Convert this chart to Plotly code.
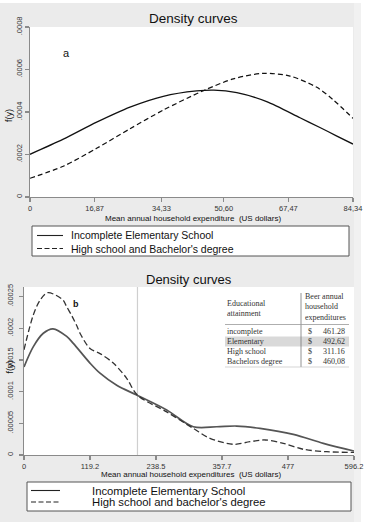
import plotly.graph_objects as go

W, H = 367, 522

# ---------------- data: panel a ----------------
a_inc_x = [0, 8.7, 17.4, 26.1, 34.8, 43.5, 48.0, 54.0, 61.8, 70.5, 75.7, 80.0, 84.34]
a_inc_y = [0.000201, 0.000272, 0.000352, 0.000423, 0.000474, 0.000499, 0.000503,
           0.000491, 0.000449, 0.000373, 0.000327, 0.000288, 0.000249]
a_hs_x = [0, 8.7, 17.4, 26.1, 34.8, 43.5, 46.1, 53.1, 60.9, 67.9, 74.9, 79.2, 84.34]
a_hs_y = [0.000088, 0.000145, 0.000229, 0.000321, 0.000409, 0.000486, 0.000507,
          0.000556, 0.000582, 0.000569, 0.000516, 0.000457, 0.000370]
a_xticks = [0, 16.87, 34.33, 50.60, 67.47, 84.34]
a_xticktext = ["0", "16,87", "34,33", "50,60", "67,47", "84,34"]
a_yticks = [0, 0.0002, 0.0004, 0.0006, 0.0008]
a_yticktext = ["0", ".0002", ".0004", ".0006", ".0008"]

# ---------------- data: panel b ----------------
b_inc_x = [0, 16.9, 34.9, 52.4, 77.1, 89.1, 119.2, 137.3, 167.5, 203.6, 257.8,
           305.9, 348.2, 384.3, 426.4, 486.6, 540.8, 596.2]
b_inc_y = [0.000139, 0.000171, 0.000192, 0.000199, 0.000187, 0.000176, 0.000145,
           0.000129, 0.000110, 0.0000946, 0.000071, 0.0000446, 0.0000446,
           0.0000457, 0.000042, 0.0000326, 0.0000184, 0.0000063]
b_hs_x = [0, 16.9, 28.9, 42.1, 57.8, 71.0, 75.9, 86.7, 95.8, 101.2, 119.2, 137.3,
          161.3, 185.5, 204.7, 257.8, 305.9, 336.0, 378.2, 408.3, 435.4, 468.5,
          504.6, 546.9, 596.2]
b_hs_y = [0.000166, 0.000221, 0.000244, 0.000256, 0.000252, 0.000244, 0.000236,
          0.000219, 0.000203, 0.000192, 0.000168, 0.000160, 0.000145, 0.000121,
          0.0000946, 0.000068, 0.000042, 0.0000263, 0.0000169, 0.000021,
          0.0000237, 0.0000184, 0.000009, 0.0000052, 0.000004]
b_xticks = [0, 119.2, 238.5, 357.7, 477, 596.2]
b_xticktext = ["0", "119.2", "238.5", "357.7", "477", "596.2"]
b_yticks = [0, 0.00005, 0.0001, 0.00015, 0.0002, 0.00025]
b_yticktext = ["0", ".00005", ".0001", ".00015", ".0002", ".00025"]
b_ref_line = 205

legend_a = ["Incomplete Elementary School", "High school and Bachelor's degree"]
legend_b = ["Incomplete Elementary School", "High school and bachelor's degree"]

table_header = ["Educational<br>attainment", "Beer annual<br>household<br>expenditures"]
table_groups = ["incomplete", "Elementary", "High school", "Bachelors degree"]
table_values = ["461.28", "492,62", "311.16", "460,08"]


def fx(p):
    return p / W


def fy(p):
    return 1 - p / H


GRAY_BG = "#ebebeb"
AX = "#8a8a8a"
FONT = "Liberation Sans, Arial, sans-serif"
SERIF = "Liberation Serif, Times New Roman, serif"

fig = go.Figure()

fig.add_trace(go.Scatter(x=a_inc_x, y=a_inc_y, mode="lines", line=dict(color="#111", width=1.3, shape="spline", smoothing=0.8),
                         xaxis="x", yaxis="y", showlegend=False, hoverinfo="skip"))
fig.add_trace(go.Scatter(x=a_hs_x, y=a_hs_y, mode="lines", line=dict(color="#111", width=1.2, dash="5px,3px", shape="spline", smoothing=0.8),
                         xaxis="x", yaxis="y", showlegend=False, hoverinfo="skip"))
fig.add_trace(go.Scatter(x=b_inc_x, y=b_inc_y, mode="lines", line=dict(color="#555", width=1.7, shape="spline", smoothing=0.9),
                         xaxis="x2", yaxis="y2", showlegend=False, hoverinfo="skip"))
fig.add_trace(go.Scatter(x=b_hs_x, y=b_hs_y, mode="lines", line=dict(color="#333", width=1.3, dash="6px,3px", shape="spline", smoothing=0.9),
                         xaxis="x2", yaxis="y2", showlegend=False, hoverinfo="skip"))

axis_common = dict(showline=True, linecolor=AX, linewidth=1.3, ticks="outside", ticklen=4,
                   tickcolor=AX, tickwidth=1.2, showgrid=False, zeroline=False, automargin=False,
                   tickfont=dict(size=7.5, color="#333", family=FONT), fixedrange=True)

fig.update_layout(
    width=W, height=H, autosize=False,
    margin=dict(l=0, r=0, t=0, b=0, pad=0, autoexpand=False),
    paper_bgcolor=GRAY_BG, plot_bgcolor="white",
    font=dict(family=FONT, color="#222"),
    xaxis=dict(domain=[fx(30), fx(353)], range=[0, 84.34], anchor="y",
               tickmode="array", tickvals=a_xticks, ticktext=a_xticktext, **axis_common),
    yaxis=dict(domain=[fy(197), fy(27)], range=[0, 0.0008], anchor="x",
               tickmode="array", tickvals=a_yticks, ticktext=a_yticktext, tickangle=-90,
               **axis_common),
    xaxis2=dict(domain=[fx(24), fx(354)], range=[0, 596.2], anchor="y2",
                tickmode="array", tickvals=b_xticks, ticktext=b_xticktext, **axis_common),
    yaxis2=dict(domain=[fy(455), fy(287)], range=[0, 0.000265], anchor="x2",
                tickmode="array", tickvals=b_yticks, ticktext=b_yticktext, tickangle=-90,
                ticklabelstandoff=3, **axis_common),
)

shapes = []
# white strips at top and right of the page
shapes.append(dict(type="rect", xref="paper", yref="paper", x0=fx(361), x1=1.0, y0=0, y1=1,
                   fillcolor="white", line=dict(width=0), layer="below"))
shapes.append(dict(type="rect", xref="paper", yref="paper", x0=0, x1=1, y0=fy(3), y1=1,
                   fillcolor="white", line=dict(width=0), layer="below"))
shapes.append(dict(type="rect", xref="paper", yref="paper", x0=fx(354), x1=fx(361), y0=0, y1=fy(3),
                   fillcolor="#f1f1f1", line=dict(width=0), layer="below"))
# reference line in panel b
shapes.append(dict(type="line", xref="x2", yref="y2 domain", x0=b_ref_line, x1=b_ref_line, y0=0, y1=1,
                   line=dict(color="#cfcfcf", width=1.2), layer="below"))


def legend_box(x0, y0, x1, y1, rows, line_x0, line_x1, text_x, labels, size, dashes):
    shapes.append(dict(type="rect", xref="paper", yref="paper", x0=fx(x0), x1=fx(x1), y0=fy(y1), y1=fy(y0),
                       fillcolor="white", line=dict(color="#555", width=1)))
    for ry, lab, dsh in zip(rows, labels, dashes):
        shapes.append(dict(type="line", xref="paper", yref="paper", x0=fx(line_x0), x1=fx(line_x1),
                           y0=fy(ry), y1=fy(ry), line=dict(color="#222", width=1.1, dash=dsh)))
        fig.add_annotation(x=fx(text_x), y=fy(ry), xref="paper", yref="paper", text=lab,
                           showarrow=False, xanchor="left", yanchor="middle",
                           font=dict(size=size, color="#111", family=FONT))


legend_box(32, 226, 349, 256, [235.5, 248.5], 37, 63, 69, legend_a, 10.5, ["solid", "5px,2.5px"])
legend_box(27, 482, 351, 511, [490.5, 502], 31, 60, 90, legend_b, 11.3, ["solid", "5px,2.5px"])

# table
tx0, tx1, vline = 225, 349, 301
shapes.append(dict(type="rect", xref="paper", yref="paper", x0=fx(tx0), x1=fx(tx1), y0=fy(346.5), y1=fy(336.5),
                   fillcolor="#d9d9d9", line=dict(width=0)))
shapes.append(dict(type="line", xref="paper", yref="paper", x0=fx(vline), x1=fx(vline), y0=fy(367), y1=fy(293),
                   line=dict(color="#777", width=0.8)))
shapes.append(dict(type="line", xref="paper", yref="paper", x0=fx(tx0), x1=fx(tx1), y0=fy(324.5), y1=fy(324.5),
                   line=dict(color="#999", width=0.8)))
shapes.append(dict(type="line", xref="paper", yref="paper", x0=fx(tx0), x1=fx(tx1), y0=fy(367), y1=fy(367),
                   line=dict(color="#bbb", width=0.6)))

fig.add_annotation(x=fx(225), y=fy(308), xref="paper", yref="paper", text=table_header[0],
                   showarrow=False, xanchor="left", yanchor="middle", align="left",
                   font=dict(size=8, color="#333", family=SERIF))
fig.add_annotation(x=fx(302.5), y=fy(306.5), xref="paper", yref="paper", text=table_header[1],
                   showarrow=False, xanchor="left", yanchor="middle", align="left",
                   font=dict(size=8, color="#333", family=SERIF))
row_y = [331, 341.5, 351.5, 361.5]
for ry, g, v in zip(row_y, table_groups, table_values):
    fig.add_annotation(x=fx(225), y=fy(ry), xref="paper", yref="paper", text=g, showarrow=False,
                       xanchor="left", yanchor="middle", font=dict(size=8, color="#333", family=SERIF))
    fig.add_annotation(x=fx(305.5), y=fy(ry), xref="paper", yref="paper", text="$", showarrow=False,
                       xanchor="left", yanchor="middle", font=dict(size=8, color="#333", family=SERIF))
    fig.add_annotation(x=fx(347), y=fy(ry), xref="paper", yref="paper", text=v, showarrow=False,
                       xanchor="right", yanchor="middle", font=dict(size=8, color="#333", family=SERIF))

fig.update_layout(shapes=shapes)


def ann(x, y, text, size, angle=0, bold=False, color="#111"):
    fig.add_annotation(x=fx(x), y=fy(y), xref="paper", yref="paper",
                       text=f"<b>{text}</b>" if bold else text, showarrow=False,
                       xanchor="center", yanchor="middle", textangle=angle,
                       font=dict(size=size, color=color, family=FONT))


ann(193, 19, "Density curves", 13.5)
ann(189, 279, "Density curves", 13)
ann(193, 218.5, "Mean annual household expenditure  (US dollars)", 8)
ann(191, 474.5, "Mean annual household expenditures  (US dollars)", 8)
ann(9, 116, "f(y)", 9, angle=-90)
ann(9.5, 367, "f(y)", 9, angle=-90)
ann(66.5, 53, "a", 11)
ann(76, 304, "b", 9, bold=True)

fig.write_html(
    "out.html",
    config={"displayModeBar": False, "staticPlot": True},
    post_script="document.body.style.margin='0';document.body.style.padding='0';"
                "document.documentElement.style.overflow='hidden';document.body.style.overflow='hidden';",
)
